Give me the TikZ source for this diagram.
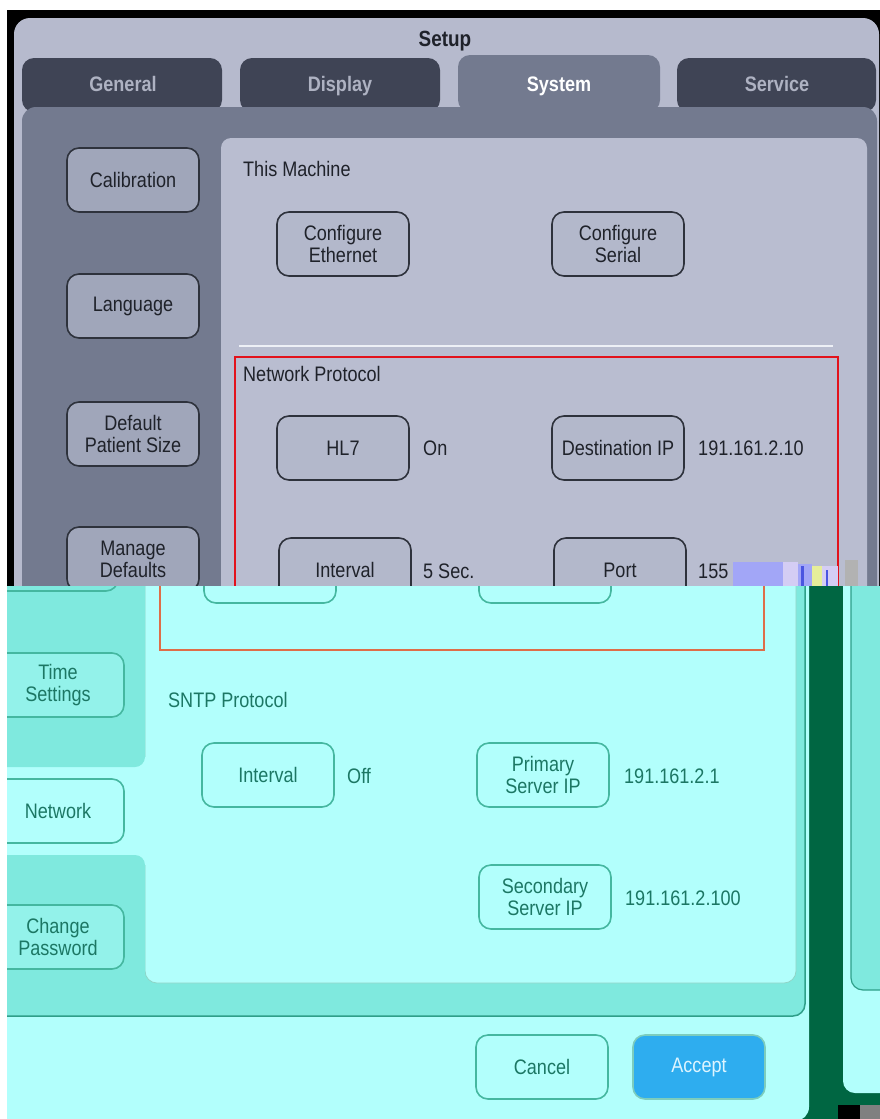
\documentclass[tikz,border=0pt]{standalone}
\usepackage{fontspec}
\setmainfont{Liberation Sans}[FakeStretch=0.86]
\usepackage{tikz}
\usetikzlibrary{positioning,calc}

\definecolor{panelgray}{HTML}{B6BACD}
\definecolor{tabdark}{HTML}{3F4455}
\definecolor{tabtext}{HTML}{AEB2C2}
\definecolor{innergray}{HTML}{737A8F}
\definecolor{contentgray}{HTML}{B9BDD0}
\definecolor{btngray}{HTML}{B3B8CB}
\definecolor{btnleft}{HTML}{A0A6BA}
\definecolor{btnedge}{HTML}{2E323C}
\definecolor{txtdark}{HTML}{1F222A}
\definecolor{boxred}{HTML}{E2121B}
\definecolor{sepwhite}{HTML}{EDF0F6}
\definecolor{cyanbg}{HTML}{B2FFFC}
\definecolor{tealmid}{HTML}{7FE9DE}
\definecolor{tealedge}{HTML}{2F9F89}
\definecolor{tealline}{HTML}{45B7A0}
\definecolor{tealtext}{HTML}{1C7764}
\definecolor{darkgreen}{HTML}{006642}
\definecolor{boxorange}{HTML}{DE6E48}
\definecolor{acceptblue}{HTML}{2EADEF}
\definecolor{accepttext}{HTML}{DDF5FF}
\definecolor{glitchblue}{HTML}{A2A6F7}
\definecolor{glitchlav}{HTML}{D4CDF4}
\definecolor{glitchdeep}{HTML}{4A55E0}
\definecolor{glitchyel}{HTML}{E6EE9A}

\tikzset{
  uifont/.style={font=\fontsize{21}{22}\selectfont},
  graybtn/.style={uifont, draw=btnedge, line width=1.6pt, fill=btngray,
    rounded corners=12pt, minimum width=132pt, minimum height=64pt,
    align=center, text=txtdark, inner sep=0pt},
  sidebtn/.style={graybtn, fill=btnleft},
  tabname/.style={font=\fontsize{21}{22}\selectfont\bfseries, inner sep=0pt,
    text height=15pt, text depth=0pt},
  toplbl/.style={uifont, text=txtdark, inner sep=0pt, anchor=west,
    text height=15pt, text depth=0pt},
  tealbtn/.style={uifont, draw=tealline, line width=1.6pt, fill=cyanbg,
    rounded corners=12pt, minimum width=132pt, minimum height=64pt,
    align=center, text=tealtext, inner sep=0pt},
  botlbl/.style={uifont, text=tealtext, inner sep=0pt, anchor=west,
    text height=15pt, text depth=0pt}
}

\begin{document}
\begin{tikzpicture}[x=1pt,y=-1pt]
  \useasboundingbox (0,0) rectangle (880,1119);
  % upper screen
  \fill[black] (7,10) rectangle (880,586);
  \fill[panelgray, rounded corners=16pt] (14,18) rectangle (879,640);
  \node[tabname, font=\fontsize{22}{24}\selectfont\bfseries, text=txtdark] (setup) at (445,39) {Setup};

  \fill[tabdark, rounded corners=12pt] (22,112) -- (22,58) -- (222,58) -- (222,112) -- cycle;
  \fill[tabdark, rounded corners=12pt] (240,112) -- (240,58) -- (440,58) -- (440,112) -- cycle;
  \fill[tabdark, rounded corners=12pt] (677,112) -- (677,58) -- (876,58) -- (876,112) -- cycle;
  \fill[innergray, rounded corners=14pt] (22,640) -- (22,107) -- (877,107) -- (877,640) -- cycle;
  \fill[innergray, rounded corners=12pt] (458,112) -- (458,55) -- (660,55) -- (660,112) -- cycle;
  \node[tabname, text=tabtext] (general) at (123,84) {General};
  \node[tabname, text=tabtext] (display) at (340,84) {Display};
  \node[tabname, text=white] (system) at (559,84) {System};
  \node[tabname, text=tabtext] (service) at (777,84) {Service};

  \fill[contentgray, rounded corners=10pt] (221,138) rectangle (867,640);

  \node[sidebtn] (calib) at (133,180) {Calibration};
  \node[sidebtn] (lang) at (133,306) {Language};
  \node[sidebtn] (patsize) at (133,434) {Default\\Patient Size};
  \node[sidebtn] (mgdef) at (133,559) {Manage\\Defaults};

  \node[toplbl] (machine) at (243,169) {This Machine};
  \node[graybtn] (ether) at (343,244) {Configure\\Ethernet};
  \node[graybtn] (serial) at (618,244) {Configure\\Serial};

  \draw[sepwhite, line width=2.5pt] (239,346) -- (833,346);
  \draw[boxred, line width=2.4pt] (235,640) -- (235,357) -- (838,357) -- (838,640);

  \node[toplbl] (netproto) at (243,374) {Network Protocol};
  \node[graybtn] (hlseven) at (343,448) {HL7};
  \node[toplbl] (hlstate) at (423,448) {On};
  \node[graybtn] (destip) at (618,448) {Destination IP};
  \node[toplbl] (destval) at (698,448) {191.161.2.10};
  \node[graybtn] (netint) at (345,570) {Interval};
  \node[toplbl] (netintval) at (423,571) {5 Sec.};
  \node[graybtn] (port) at (620,570) {Port};
  \node[toplbl] (portval) at (698,571) {155};

  % broken pixels
  \fill[glitchblue] (733,562) rectangle (783,586);
  \fill[glitchlav] (783,562) rectangle (798,586);
  \fill[glitchblue] (798,564) rectangle (812,586);
  \fill[glitchdeep] (801,566) rectangle (804,586);
  \fill[glitchyel] (812,566) rectangle (822,586);
  \fill[glitchlav] (822,566) rectangle (838,586);
  \fill[glitchdeep] (826,570) rectangle (828,586);
  \fill[gray!60] (845,560) rectangle (858,586);

  % lower screen
  \fill[white] (0,586) rectangle (880,1119);
  \begin{scope}
    \clip (7,586) rectangle (880,1119);
    \fill[darkgreen] (790,586) rectangle (880,1119);
    \fill[cyanbg, rounded corners=12pt] (843,560) rectangle (900,1093);
    \draw[fill=tealmid, draw=tealedge, line width=1.2pt, rounded corners=12pt] (851,560) rectangle (900,990);
    \fill[black] (838,1105) rectangle (860,1119);
    \fill[gray] (860,1105) rectangle (880,1119);

    \fill[cyanbg, rounded corners=14pt] (-20,560) rectangle (809,1121);
    \draw[fill=tealmid, draw=tealedge, line width=1.5pt, rounded corners=12pt] (-20,560) rectangle (805,1016);
    \draw[fill=cyanbg, draw=tealline!60, line width=0.8pt, rounded corners=12pt] (145,560) rectangle (796,983);
    \fill[cyanbg] (0,757) rectangle (150,865);
    \fill[tealmid, rounded corners=10pt] (-20,560) rectangle (145,767);
    \fill[tealmid, rounded corners=10pt] (-20,855) rectangle (145,1008);

    \node[tealbtn, fill=tealmid] (mgrest) at (52,559) {};
    \node[tealbtn] (intrest) at (270,571) {};
    \node[tealbtn] (portrest) at (545,571) {};
    \draw[boxorange, line width=1.8pt] (160,560) -- (160,650) -- (764,650) -- (764,560);

    \node[tealbtn, fill=tealmid!60!cyanbg] (timeset) at (58,685) {Time\\Settings};
    \node[tealbtn] (network) at (58,811) {Network};
    \node[tealbtn, fill=tealmid!60!cyanbg] (chpass) at (58,937) {Change\\Password};
  \end{scope}

  \node[botlbl] (sntp) at (168,700) {SNTP Protocol};
  \node[tealbtn] (sntpint) at (268,775) {Interval};
  \node[botlbl] (sntpval) at (347,776) {Off};
  \node[tealbtn] (primary) at (543,775) {Primary\\Server IP};
  \node[botlbl] (primval) at (624,776) {191.161.2.1};
  \node[tealbtn] (second) at (545,897) {Secondary\\Server IP};
  \node[botlbl] (secval) at (625,898) {191.161.2.100};

  \node[tealbtn] (cancel) at (542,1067) {Cancel};
  \node[tealbtn, fill=acceptblue, draw=tealline!70, text=accepttext] (accept) at (699,1067) {Accept};
\end{tikzpicture}
\end{document}
